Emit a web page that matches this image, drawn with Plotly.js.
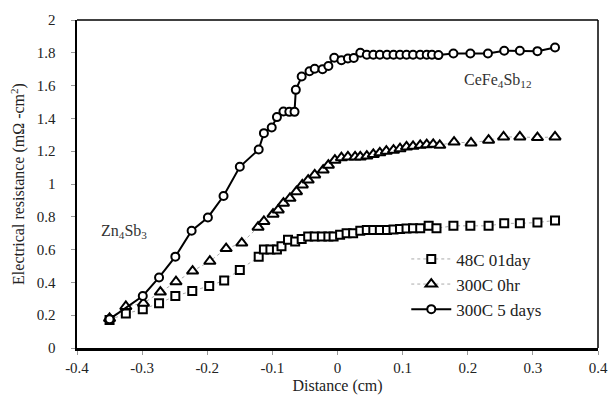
<!DOCTYPE html>
<html><head><meta charset="utf-8">
<script src="https://cdn.plot.ly/plotly-3.0.1.min.js"></script>
<style>html,body{margin:0;padding:0;background:#fff}#c{width:612px;height:403px}</style>
</head><body><div id="c"></div>
<script>
const sqX = [-0.350,-0.325,-0.299,-0.274,-0.249,-0.223,-0.197,-0.174,-0.150,-0.121,-0.113,-0.103,-0.093,-0.086,-0.076,-0.065,-0.055,-0.045,-0.035,-0.024,-0.014,-0.006,0.004,0.014,0.024,0.035,0.045,0.055,0.065,0.076,0.086,0.096,0.106,0.116,0.127,0.140,0.152,0.178,0.204,0.232,0.256,0.280,0.307,0.334];
const sqY = [0.171,0.21,0.236,0.273,0.317,0.347,0.378,0.412,0.475,0.556,0.60,0.60,0.60,0.62,0.66,0.65,0.665,0.68,0.68,0.68,0.68,0.68,0.69,0.70,0.70,0.715,0.72,0.72,0.72,0.72,0.722,0.725,0.728,0.73,0.73,0.745,0.73,0.745,0.745,0.745,0.76,0.76,0.765,0.778];

const trX = [-0.350,-0.325,-0.298,-0.272,-0.248,-0.2225,-0.196,-0.171,-0.147,-0.122,-0.113,-0.099,-0.091,-0.083,-0.073,-0.063,-0.054,-0.045,-0.035,-0.022,-0.014,-0.004,0.006,0.016,0.027,0.035,0.045,0.055,0.065,0.075,0.086,0.096,0.106,0.116,0.127,0.137,0.147,0.157,0.179,0.205,0.232,0.255,0.280,0.307,0.334];
const trY = [0.18,0.253,0.273,0.341,0.404,0.469,0.529,0.606,0.64,0.737,0.772,0.816,0.842,0.883,0.913,0.953,0.994,1.024,1.055,1.085,1.115,1.145,1.16,1.165,1.165,1.165,1.17,1.18,1.19,1.2,1.206,1.215,1.226,1.23,1.236,1.24,1.242,1.236,1.256,1.25,1.267,1.287,1.287,1.283,1.287];

const ciX = [-0.350,-0.299,-0.274,-0.249,-0.224,-0.199,-0.175,-0.150,-0.121,-0.113,-0.101,-0.093,-0.083,-0.074,-0.066,-0.064,-0.055,-0.043,-0.035,-0.023,-0.014,-0.005,0.006,0.016,0.025,0.035,0.045,0.055,0.065,0.076,0.086,0.096,0.106,0.116,0.127,0.137,0.145,0.155,0.178,0.204,0.231,0.256,0.280,0.307,0.334];
const ciY = [0.176,0.317,0.43,0.557,0.715,0.796,0.927,1.105,1.21,1.31,1.345,1.408,1.442,1.44,1.44,1.574,1.655,1.687,1.703,1.70,1.72,1.77,1.755,1.765,1.768,1.80,1.788,1.788,1.788,1.788,1.788,1.788,1.788,1.788,1.788,1.788,1.788,1.786,1.796,1.796,1.796,1.812,1.812,1.81,1.832];

const names = ['48C 01day','300C 0hr','300C 5 days'];
const xTicks = [-0.4,-0.3,-0.2,-0.1,0,0.1,0.2,0.3,0.4];
const yTicks = [0,0.2,0.4,0.6,0.8,1,1.2,1.4,1.6,1.8,2];

const serif = 'Liberation Serif, Times New Roman, serif';
const mk = (sym,size)=>({symbol:sym,size:size,color:'#fff',line:{color:'#000',width:2}});

const traces = [
  {x:sqX,y:sqY,name:names[0],mode:'lines+markers',line:{color:'#aaa',width:1,dash:'dot'},marker:mk('square',8)},
  {x:trX,y:trY,name:names[1],mode:'lines+markers',line:{color:'#aaa',width:1,dash:'dot'},marker:mk('triangle-up',10)},
  {x:ciX,y:ciY,name:names[2],mode:'lines+markers',line:{color:'#000',width:2},marker:mk('circle',8)}
];

const layout = {
  width:612,height:403,
  margin:{l:77,r:14,t:20,b:55},
  paper_bgcolor:'#fff',plot_bgcolor:'#fff',
  font:{family:serif,size:15,color:'#222'},
  showlegend:true,
  legend:{x:0.632,y:0.325,xanchor:'left',yanchor:'top',bgcolor:'rgba(0,0,0,0)',font:{family:serif,size:17,color:'#222'},itemwidth:40,tracegroupgap:0},
  xaxis:{range:[-0.4,0.4],tickvals:xTicks,ticktext:xTicks.map(String),showgrid:false,zeroline:false,
    showline:true,linecolor:'#000',linewidth:2.5,ticks:'outside',ticklen:4,tickcolor:'#999',
    tickfont:{family:serif,size:15,color:'#222'},
    title:{text:'Distance (cm)',font:{family:serif,size:16,color:'#222'},standoff:6}},
  yaxis:{range:[0,2],tickvals:yTicks,ticktext:yTicks.map(String),showgrid:false,zeroline:false,
    showline:true,linecolor:'#000',linewidth:2.5,ticks:'outside',ticklen:4,tickcolor:'#999',ticklabelstandoff:12,
    tickfont:{family:serif,size:15,color:'#222'},
    title:{text:'Electrical resistance (mΩ -cm<sup>2</sup>)',font:{family:serif,size:16,color:'#222'},standoff:8}},
  shapes:[
    {type:'line',xref:'paper',yref:'paper',x0:0,x1:1,y0:1,y1:1,line:{color:'#000',width:1.5}},
    {type:'line',xref:'paper',yref:'paper',x0:1,x1:1,y0:0,y1:1,line:{color:'#000',width:1.5}}
  ],
  annotations:[
    {x:-0.328,y:0.71,xref:'x',yref:'y',text:'Zn<sub>4</sub>Sb<sub>3</sub>',showarrow:false,font:{family:serif,size:16,color:'#333'}},
    {x:0.245,y:1.63,xref:'x',yref:'y',text:'CeFe<sub>4</sub>Sb<sub>12</sub>',showarrow:false,font:{family:serif,size:16,color:'#333'}}
  ]
};
Plotly.newPlot('c',traces,layout,{displayModeBar:false,staticPlot:true});
</script></body></html>
